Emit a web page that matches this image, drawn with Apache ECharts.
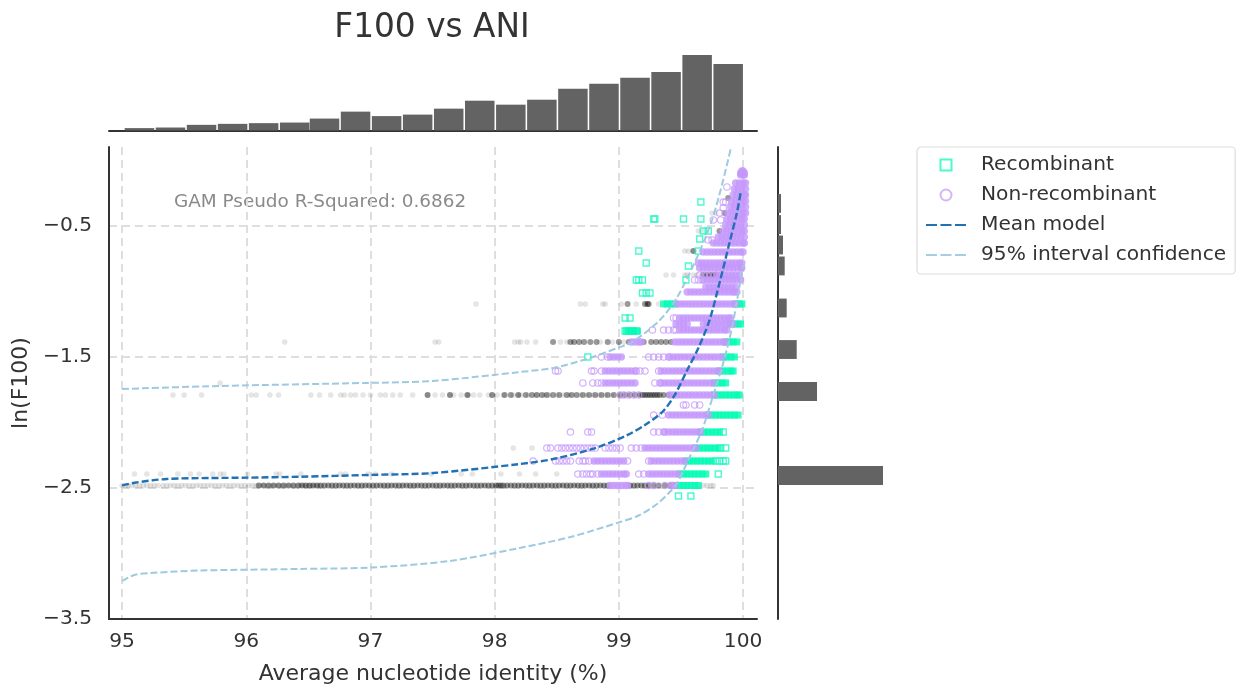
<!DOCTYPE html>
<html><head><meta charset="utf-8">
<style>html,body{margin:0;padding:0;background:#fff}#c{width:1238px;height:684px}</style>
<script src="https://cdn.jsdelivr.net/npm/echarts@6/dist/echarts.min.js"></script></head>
<body><div id="c"></div>
<script>
const xTicks=[95,96,97,98,99,100];
const yTicks=[-3.5,-2.5,-1.5,-0.5];
const topBinCenters=[95.14,95.39,95.64,95.89,96.14,96.39,96.63,96.88,97.13,97.38,97.63,97.88,98.13,98.38,98.63,98.88,99.13,99.38,99.63,99.88];
const topBinCounts=[2.4,3,5.7,6.7,7.4,8,12,19,14.5,16,22,30,26,31,42,47,53,59,76,67];
const sideBinLow=[-0.40,-0.561,-0.717,-0.877,-1.198,-1.515,-1.835,-2.477];
const sideBinHigh=[-0.256,-0.417,-0.573,-0.733,-1.054,-1.371,-1.691,-2.333];
const sideBinCounts=[3,3,5,6.7,8.7,18.7,39,105];
const meanModel=[[95,-2.48],[95.1,-2.46],[95.36,-2.431],[95.71,-2.424],[96.01,-2.421],[96.43,-2.414],[97,-2.4],[97.5,-2.386],[98.2,-2.317],[98.47,-2.279],[98.81,-2.195],[99.07,-2.095],[99.21,-2.019],[99.35,-1.92],[99.45,-1.79],[99.55,-1.6],[99.64,-1.431],[99.73,-1.218],[99.81,-0.935],[99.89,-0.63],[99.95,-0.4],[99.98,-0.248]];
const upperBand=[[95,-1.744],[95.79,-1.721],[96.97,-1.698],[97.5,-1.683],[98.2,-1.615],[98.47,-1.584],[98.74,-1.515],[98.99,-1.431],[99.11,-1.385],[99.33,-1.218],[99.47,-1.042],[99.63,-0.737],[99.75,-0.454],[99.84,-0.149],[99.9,0.088]];
const lowerBand=[[95,-3.21],[95.1,-3.164],[95.23,-3.149],[95.63,-3.13],[96.43,-3.118],[97,-3.107],[97.64,-3.057],[98.2,-2.958],[98.61,-2.874],[99.01,-2.76],[99.16,-2.71],[99.31,-2.62],[99.4,-2.54],[99.47,-2.462],[99.57,-2.263],[99.67,-2.057],[99.76,-1.79],[99.84,-1.546],[99.91,-1.279],[99.97,-0.966],[100,-0.798]];
const greyLight=[
[-2.481,[95.0,95.03,95.05,95.08,95.11,95.14,95.17,95.2,95.23,95.26,95.29,95.33,95.36,95.39,95.42,95.45,95.48,95.51,95.54,95.57,95.6,95.63,95.66,95.69,95.72,95.75,95.78,95.81,95.84,95.87,95.9,95.93,95.96,95.99,96.02,96.05,96.08,96.11,96.14,96.17,96.2,96.23,96.26,96.29,96.32,96.35,96.38,96.41,96.44,96.47,96.5,96.53,96.56,96.59,99.65,99.68,99.71,99.74,99.76]],
[-2.393,[95.1,95.2,95.31,95.45,95.55,95.62,95.73,95.79,95.82,96.01,96.24,96.27,96.44,96.76,96.8,96.98,97.04,97.17,97.49,97.73,97.82,98.05,98.2,98.33,98.5]],
[-2.195,[98.15,98.3]],
[-1.79,[95.41,95.5,95.64,96.04,96.08,96.19,96.26,96.52,96.59,96.68,96.76,96.79,96.84,96.88,96.94,97,97.08,97.12,97.18,97.24,97.34,97.46,97.52,97.58,97.64,97.67,97.73,97.78,97.79,97.83,97.88,97.95,97.98,98.02,98.07,98.15,98.19,98.21,98.27,98.33,98.4,98.44,98.5,98.55,98.6,98.69,98.74,98.79,98.84,98.89,98.94]],
[-1.698,[95.79]],
[-1.385,[96.31,97.52,97.55,98.16,98.19,98.21,98.26,98.33,98.53,98.58,98.85,98.95,99.04]],
[-1.095,[97.85,98.69,98.73,98.87,98.89,99.02,99.14,99.32]],
[-0.874,[99.38,99.44,99.53,99.55,99.6,99.63]],
[-0.691,[99.53,99.56,99.6]],
[-0.538,[99.64,99.67]],
[-0.401,[99.75,99.78]]
];
const greyDense=[
[-2.481,[96.1,96.14,96.18,96.22,96.26,96.3,96.34,96.38,96.42,96.45,96.48,96.51,96.54,96.57,96.6,96.63,96.66,96.69,96.72,96.75,96.78,96.81,96.84,96.87,96.9,96.93,96.96,96.99,97.02,97.05,97.08,97.11,97.14,97.17,97.2,97.23,97.26,97.29,97.32,97.35,97.38,97.41,97.44,97.47,97.5,97.53,97.56,97.59,97.62,97.65,97.68,97.71,97.74,97.77,97.8,97.83,97.86,97.89,97.92,97.95,97.98,98.01,98.03,98.05,98.07,98.1,98.13,98.16,98.19,98.22,98.25,98.28,98.31,98.34,98.37,98.4,98.43,98.46,98.49,98.52,98.55,98.58,98.61,98.64,98.67,98.7,98.73,98.76,98.79,98.82,98.85,98.88,98.91,99.09,99.12,99.15,99.18,99.21,99.24,99.28,99.32,99.37,99.41]],
[-1.79,[97.46,97.64,97.78,97.98,98.08,98.13,98.19,98.25,98.3,98.34,98.38,98.42,98.47,98.52,98.58,98.62,98.66,98.71,98.76,98.81,98.86,98.91,98.96,99.01,99.05,99.09,99.13,99.17,99.19,99.21,99.23,99.25,99.27,99.29,99.31,99.33,99.36,99.4]],
[-1.385,[98.47,98.61,98.64,98.68,98.72,98.77,98.82,98.91,99,99.08,99.2,99.26,99.3,99.34,99.38,99.42]],
[-1.095,[99.07,99.21,99.23,99.24]],
[-0.874,[99.68,99.71,99.74,99.76,99.78]],
[-0.691,[99.6]],
[-0.538,[99.81]],
[-0.401,[99.85]],
[-0.286,[99.88]]
];
const recombinantOpen=[
[-2.561,[99.48,99.58]],[-2.393,[99.8]],[-2.294,[99.78,99.81,99.84,99.86]],[-2.195,[99.82,99.86]],[-2.073,[99.84]],
[-1.5,[98.75]],[-1.302,[99.05,99.08,99.11,99.14]],[-1.202,[99.05,99.09]],[-1.011,[99.19,99.22,99.25]],[-0.912,[99.14,99.16,99.19,99.54]],
[-0.805,[99.56]],[-0.782,[99.22]],[-0.691,[99.16,99.64]],[-0.599,[99.65]],[-0.538,[99.68,99.72]],[-0.447,[99.28,99.29,99.52,99.66]],[-0.317,[99.66]]
];
const recombinantDense=[
[-2.481,[99.46,99.49,99.52,99.55,99.58,99.61,99.64]],
[-2.393,[99.49,99.52,99.55,99.58,99.61,99.64,99.67,99.7]],
[-2.294,[99.54,99.57,99.6,99.63,99.66,99.69,99.72,99.75]],
[-2.195,[99.62,99.65,99.68,99.71,99.74,99.77,99.8]],
[-2.073,[99.66,99.69,99.72,99.75,99.78,99.81]],
[-1.943,[99.72,99.75,99.78,99.81,99.84,99.87,99.9,99.93,99.96]],
[-1.79,[99.77,99.8,99.83,99.86,99.89,99.92,99.95,99.97]],
[-1.698,[99.77,99.8,99.83,99.86]],
[-1.607,[99.81,99.84,99.87,99.9,99.92]],
[-1.5,[99.84,99.87,99.9,99.93]],
[-1.385,[99.86,99.89,99.92,99.95]],
[-1.302,[99.06,99.09,99.12,99.15]],
[-1.248,[99.9,99.93,99.96,99.98]],
[-1.095,[99.36,99.39,99.42,99.45,99.94,99.97,99.99]]
];
const nonRecombinantOpen=[
[-2.481,[99.24,99.28,99.37,99.42]],
[-2.393,[98.67,98.71,98.74,98.77,98.79,98.83,99.16,99.2]],
[-2.294,[98.31,98.49,98.52,98.55,98.58,98.61,98.68,98.71,98.73,98.76,99.07,99.24]],
[-2.195,[98.42,98.45,98.51,98.54,98.57,98.6,98.63,98.66,98.69,98.72,98.75,98.78,98.81,98.89,98.92,98.95,98.98,99.01,99.1,99.14,99.18]],
[-2.073,[98.61,98.75,98.78,99.28,99.32,99.36]],
[-1.943,[99.28,99.35]],
[-1.866,[99.52,99.54,99.61,99.65]],
[-1.79,[99.01,99.04,99.08,99.12,99.16]],
[-1.698,[98.71,98.79,98.83,98.86,99.29,99.33]],
[-1.607,[98.49,98.51,98.78,98.8,98.86,99.14,99.17,99.21,99.32]],
[-1.5,[98.86,98.91,99.24,99.28,99.32,99.36,99.4]],
[-1.294,[99.27,99.36,99.4,99.44,99.46]],
[-1.202,[99.44,99.46]],
[-0.912,[99.61,99.64,99.67]],
[-0.874,[99.65,99.68,99.71,99.74,99.77]],
[-0.607,[99.72,99.75]],
[-0.454,[99.76,99.82]],
[-0.401,[99.81]],
[-0.363,[99.84]],
[-0.317,[99.84,99.86]],
[-0.202,[99.87]]
];
const nonRecombinantDense=[
[-2.481,[98.93,98.96,98.99,99.02,99.05,99.07,99.43,99.45]],
[-2.393,[98.86,98.89,98.92,98.95,98.98,99.01,99.04,99.06,99.24,99.27,99.3,99.33,99.36,99.39,99.42,99.45,99.48]],
[-2.294,[98.8,98.83,98.86,98.89,98.92,98.95,98.98,99.01,99.04,99.26,99.29,99.32,99.35,99.38,99.41,99.44,99.47,99.5,99.53]],
[-2.195,[99.21,99.24,99.27,99.3,99.33,99.36,99.39,99.42,99.45,99.48,99.51,99.54,99.57,99.6,99.62]],
[-2.073,[99.37,99.4,99.43,99.46,99.49,99.52,99.55,99.58,99.61,99.64,99.66]],
[-1.943,[99.4,99.43,99.46,99.49,99.52,99.55,99.58,99.61,99.64,99.67,99.7,99.72]],
[-1.79,[99.41,99.44,99.47,99.5,99.53,99.56,99.59,99.62,99.65,99.68,99.71,99.74,99.77]],
[-1.698,[98.89,98.92,98.95,98.98,99.01,99.04,99.07,99.1,99.13,99.34,99.37,99.4,99.43,99.46,99.49,99.52,99.55,99.58,99.61,99.64,99.67,99.7,99.73,99.76]],
[-1.607,[98.89,98.92,98.95,98.98,99.01,99.04,99.07,99.1,99.13,99.34,99.37,99.4,99.43,99.46,99.49,99.52,99.55,99.58,99.61,99.64,99.67,99.7,99.73,99.76,99.79,99.81]],
[-1.5,[98.93,98.96,98.99,99.02,99.41,99.44,99.47,99.5,99.53,99.56,99.59,99.62,99.65,99.68,99.71,99.74,99.77,99.8,99.83]],
[-1.385,[99.1,99.13,99.16,99.18,99.45,99.48,99.51,99.54,99.57,99.6,99.63,99.66,99.69,99.72,99.75,99.78,99.81,99.84,99.86]],
[-1.294,[99.49,99.52,99.55,99.58,99.61,99.64,99.67,99.7,99.73,99.76,99.79,99.82,99.85,99.87]],
[-1.248,[99.46,99.49,99.52,99.55,99.68,99.71,99.74,99.77,99.8,99.83,99.86,99.89,99.92]],
[-1.202,[99.49,99.52,99.55,99.58,99.61,99.64,99.67,99.7,99.73,99.76,99.79,99.82,99.85,99.88,99.9]],
[-1.095,[99.47,99.5,99.53,99.56,99.59,99.62,99.65,99.68,99.71,99.74,99.77,99.8,99.83,99.86,99.89,99.92,99.94]],
[-1.004,[99.55,99.58,99.61,99.64,99.67,99.7,99.73,99.76,99.79,99.82,99.85,99.88,99.91,99.93,99.95]],
[-0.966,[99.7,99.73,99.76,99.79,99.82,99.85,99.88,99.91,99.94]],
[-0.912,[99.68,99.71,99.74,99.77,99.8,99.83,99.86,99.89,99.92,99.95,99.98]],
[-0.874,[99.79,99.82,99.85,99.88,99.91,99.94,99.97]],
[-0.82,[99.65,99.68,99.71,99.74,99.77,99.8,99.83,99.86,99.89,99.92,99.95,99.98,99.99]],
[-0.782,[99.64,99.67,99.7,99.73,99.76,99.79,99.82,99.85,99.88,99.91,99.94,99.97,99.99]],
[-0.698,[99.68,99.71,99.74,99.77,99.8,99.83,99.86,99.89,99.92,99.95,99.98,100]],
[-0.63,[99.76,99.79,99.82,99.85,99.88,99.91,99.94,99.97,100,100.01]],
[-0.584,[99.8,99.83,99.86,99.89,99.92,99.95,99.98,100.01]],
[-0.538,[99.84,99.87,99.9,99.93,99.96,99.99,100.01]],
[-0.492,[99.86,99.89,99.92,99.95,99.98,100.01]],
[-0.447,[99.87,99.9,99.93,99.96,99.99,100.01]],
[-0.401,[99.88,99.91,99.94,99.97,100,100.02]],
[-0.355,[99.9,99.93,99.96,99.99,100.02]],
[-0.309,[99.91,99.94,99.97,100,100.02]],
[-0.263,[99.92,99.95,99.98,100.01,100.02]],
[-0.218,[99.93,99.96,99.99,100.02]],
[-0.172,[99.94,99.97,100,100.02]],
[-0.11,[99.98,100,100.01]],
[-0.095,[99.98,99.99,100,100.01]],
[-0.08,[99.99,100]]
];
const toPoints=rows=>rows.flatMap(([y,xs])=>xs.map(x=>[x,y]));
const FONT='"DejaVu Sans"',INK='#333333';
const xLeft=94.895,xRight=100.112;
const DASHES='path://M0,0H11V2H0Z M14.5,0H25.5V2H14.5Z M29,0H40V2H29Z';
const chart=echarts.init(document.getElementById('c'),null,{renderer:'canvas'});
chart.setOption({
 animation:false,backgroundColor:'#fff',
 title:{text:'F100 vs ANI',left:427,top:7,textAlign:'center',textStyle:{fontFamily:FONT,fontSize:32.8,fontWeight:'normal',color:INK}},
 graphic:[{type:'text',left:174,top:193,style:{text:'GAM Pseudo R-Squared: 0.6862',fontFamily:FONT,fontSize:18.4,fill:'#8a8a8a'}}],
 legend:{left:917,top:147,orient:'vertical',padding:[8,9,9,9],itemWidth:40,itemHeight:11,itemGap:10,
  backgroundColor:'#fff',borderColor:'#dddddd',borderWidth:1.2,borderRadius:4,
  textStyle:{fontFamily:FONT,fontSize:20.2,color:INK,padding:[0,0,0,10]},
  data:[
   {name:'Recombinant',icon:'path://M0,0H10V10H0Z',itemStyle:{color:'transparent',borderColor:'#1ff7c1',borderWidth:2}},
   {name:'Non-recombinant',icon:'circle',itemStyle:{color:'transparent',borderColor:'#c69bfb',borderWidth:2}},
   {name:'Mean model',icon:DASHES,itemStyle:{color:'#2171b5',borderWidth:0}},
   {name:'95% interval confidence',icon:DASHES,itemStyle:{color:'#a6cee3',borderWidth:0}}]},
 grid:[
  {left:109,top:147,width:648,height:472,outerBoundsMode:'none'},
  {left:109,top:55,width:648,height:75.5,outerBoundsMode:'none'},
  {left:778,top:147,width:105,height:472,outerBoundsMode:'none'}
 ],
 xAxis:[
  {gridIndex:0,type:'value',min:xLeft,max:xRight,
   axisLine:{show:true,onZero:false,lineStyle:{color:INK,width:2}},axisTick:{show:false,customValues:xTicks},
   axisLabel:{customValues:xTicks,fontFamily:FONT,fontSize:20.2,color:INK,margin:13},
   splitLine:{show:true,lineStyle:{color:'#dedede',width:2,type:[8,5]}},
   name:'Average nucleotide identity (%)',nameLocation:'middle',nameGap:44,nameTextStyle:{fontFamily:FONT,fontSize:22,color:INK}},
  {gridIndex:1,type:'value',min:xLeft,max:xRight,axisLine:{show:true,onZero:false,lineStyle:{color:INK,width:2}},axisTick:{show:false},axisLabel:{show:false},splitLine:{show:false}},
  {gridIndex:2,type:'value',min:0,max:105,axisLine:{show:false},axisTick:{show:false},axisLabel:{show:false},splitLine:{show:false}}
 ],
 yAxis:[
  {gridIndex:0,type:'value',min:-3.5,max:0.103,
   axisLine:{show:true,onZero:false,lineStyle:{color:INK,width:2}},axisTick:{show:false,customValues:yTicks},
   axisLabel:{customValues:yTicks,fontFamily:FONT,fontSize:20.2,color:INK,margin:17,padding:[4,0,0,0],formatter:v=>String(v).replace('-','\u2212')},
   splitLine:{show:true,lineStyle:{color:'#dedede',width:2,type:[8,5]}},
   name:'ln(F100)',nameLocation:'middle',nameGap:69,nameTextStyle:{fontFamily:FONT,fontSize:22,color:INK}},
  {gridIndex:1,type:'value',min:0,max:76,axisLine:{show:false},axisTick:{show:false},axisLabel:{show:false},splitLine:{show:false}},
  {gridIndex:2,type:'value',min:-3.5,max:0.103,axisLine:{show:true,onZero:false,lineStyle:{color:INK,width:2}},axisTick:{show:false},axisLabel:{show:false},splitLine:{show:false}}
 ],
 series:[
  {name:'grey',type:'scatter',data:toPoints(greyLight),symbolSize:5.6,itemStyle:{color:'#000',opacity:0.1},silent:true},
  {name:'greyDense',type:'scatter',data:toPoints(greyDense),symbolSize:6,itemStyle:{color:'#000',opacity:0.4},silent:true},
  {name:'Recombinant',type:'scatter',data:toPoints(recombinantOpen),symbol:'rect',symbolSize:6,itemStyle:{color:'rgba(0,0,0,0)',borderColor:'#1ff7c1',borderWidth:1.4,opacity:0.8}},
  {name:'Recombinant',type:'scatter',data:toPoints(recombinantDense),symbol:'rect',symbolSize:7,itemStyle:{color:'#00fbb4'}},
  {name:'Non-recombinant',type:'scatter',data:toPoints(nonRecombinantOpen),symbolSize:6.4,itemStyle:{color:'rgba(0,0,0,0)',borderColor:'#c497fb',borderWidth:1.2,opacity:0.75}},
  {name:'Non-recombinant',type:'scatter',data:toPoints(nonRecombinantDense),symbolSize:7.4,itemStyle:{color:'#c497fb'}},
  {name:'95% interval confidence',type:'line',smooth:0.3,symbol:'none',data:upperBand,lineStyle:{color:'#9ecae1',width:2,type:[7,3]},itemStyle:{color:'#9ecae1'}},
  {name:'95% interval confidence',type:'line',smooth:0.3,symbol:'none',data:lowerBand,lineStyle:{color:'#9ecae1',width:2,type:[7,3]},itemStyle:{color:'#9ecae1'}},
  {name:'Mean model',type:'line',smooth:0.3,symbol:'none',data:meanModel,lineStyle:{color:'#2171b5',width:2.4,type:[7,3]},itemStyle:{color:'#2171b5'}},
  {name:'top',type:'bar',xAxisIndex:1,yAxisIndex:1,data:topBinCenters.map((x,i)=>[x,topBinCounts[i]]),barWidth:29.5,itemStyle:{color:'#636363'},silent:true},
  {name:'side',type:'custom',xAxisIndex:2,yAxisIndex:2,silent:true,
   data:sideBinCounts.map((c,i)=>[c,sideBinLow[i],sideBinHigh[i]]),encode:{x:0,y:[1,2]},
   renderItem:(p,api)=>{const a=api.coord([0,api.value(2)]),b=api.coord([api.value(0),api.value(1)]);
    return {type:'rect',shape:{x:a[0],y:a[1],width:b[0]-a[0],height:b[1]-a[1]},style:{fill:'#636363'}};}}
 ]
});
</script></body></html>
